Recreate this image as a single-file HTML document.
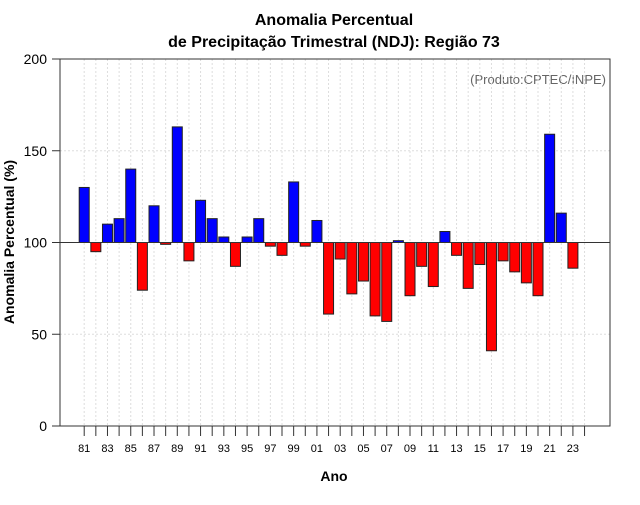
<!DOCTYPE html>
<html><head><meta charset="utf-8"><style>
body{margin:0;background:#fff;font-family:"Liberation Sans",sans-serif}
</style></head><body>
<svg id="c" width="640" height="500" xmlns="http://www.w3.org/2000/svg">
<rect width="640" height="500" fill="#fff"/>
<text x="334" y="25" text-anchor="middle" font-size="16" font-weight="bold">Anomalia Percentual</text>
<text x="334" y="47" text-anchor="middle" font-size="16" font-weight="bold">de Precipitação Trimestral (NDJ): Região 73</text>
<text x="606" y="84" text-anchor="end" font-size="13" fill="#666">(Produto:CPTEC/INPE)</text>
<text x="334" y="481" text-anchor="middle" font-size="14" font-weight="bold">Ano</text>
<text transform="translate(14,242) rotate(-90)" text-anchor="middle" font-size="14" font-weight="bold">Anomalia Percentual (%)</text>
<g id="grid"></g><g id="bars"></g><g id="axes"></g>
<rect x="60" y="59" width="550" height="367" fill="none" stroke="#333" stroke-width="1"/>
</svg>
<script>
const years=[81,82,83,84,85,86,87,88,89,90,91,92,93,94,95,96,97,98,99,0,1,2,3,4,5,6,7,8,9,10,11,12,13,14,15,16,17,18,19,20,21,22,23];
const values=[130,95,110,113,140,74,120,99,163,90,123,113,103,87,103,113,98,93,133,98,112,61,91,72,79,60,57,101,71,87,76,106,93,75,88,41,90,84,78,71,159,116,86];
const yTicks=[0,50,100,150,200];
const NS="http://www.w3.org/2000/svg";
const x=i=>84.2+i*11.636;
const y=v=>426-v*1.835;
function mk(t,a,p){const e=document.createElementNS(NS,t);for(const k in a)e.setAttribute(k,a[k]);document.getElementById(p).appendChild(e);return e;}
for(let i=0;i<=years.length;i++){
  const g=mk('line',{x1:x(i),x2:x(i),y1:59,y2:426,stroke:'#ddd','stroke-dasharray':'2,2'},'grid');
  
  
  const t=mk('line',{x1:x(i),x2:x(i),y1:426,y2:436,stroke:'#333'},'axes');
  
  
}
years.forEach((yr,i)=>{
  if(i%2===0){
    const l=mk('text',{x:x(i),y:452,'text-anchor':'middle','font-size':'11'},'axes');
    l.textContent=String(yr).padStart(2,'0');
    
    
  }
});
yTicks.forEach(v=>{
  if(v>0&&v<200){const g=mk('line',{x1:60,x2:610,y1:y(v),y2:y(v),stroke:'#ddd','stroke-dasharray':'2,2'},'grid');
  
  }
  const t=mk('line',{x1:52,x2:60,y1:y(v),y2:y(v),stroke:'#333'},'axes');
  
  
  const l=mk('text',{x:47,y:y(v)+5,'text-anchor':'end','font-size':'14'},'axes');
  l.textContent=v;
  
  
});
values.forEach((v,i)=>{
  const top=Math.min(y(v),y(100)),h=Math.abs(y(v)-y(100));
  const b=mk('rect',{x:x(i)-5,y:top,width:10,height:Math.max(h,1),fill:v>=100?'#0000ff':'#ff0000',stroke:'#222','stroke-width':1},'bars');
  
  
});
const base=mk('line',{x1:60,x2:610,y1:y(100),y2:y(100),stroke:'#333'},'axes');


</script>
</body></html>
